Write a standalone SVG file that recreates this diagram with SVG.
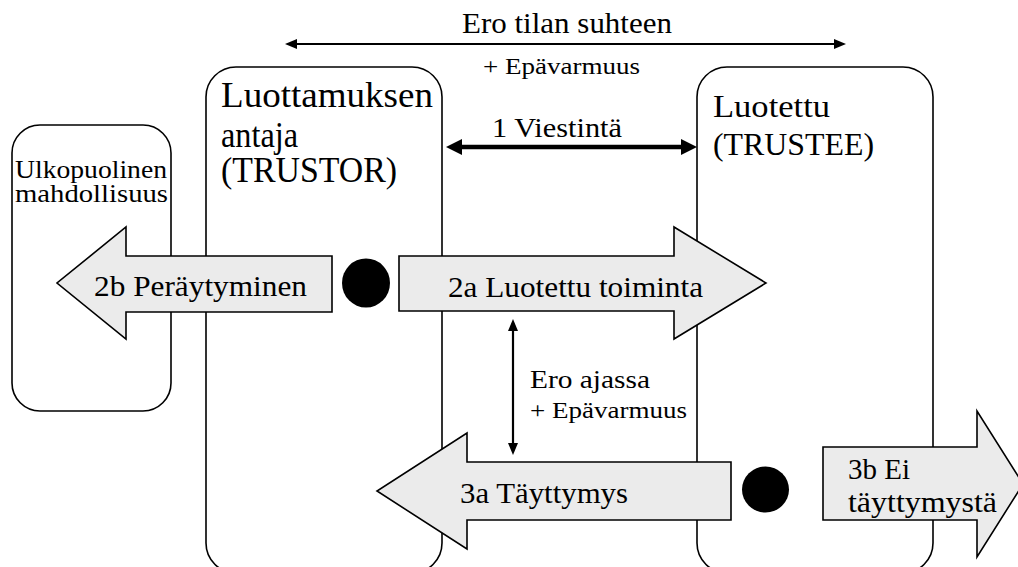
<svg xmlns="http://www.w3.org/2000/svg" width="1018" height="567" viewBox="0 0 1018 567" font-family="'Liberation Serif', 'Times New Roman', serif">
  <style>
    text { fill: #000; }
    .box { fill: #fff; stroke: #000; stroke-width: 1.6; }
    .block { fill: #ebebeb; stroke: #000; stroke-width: 1.6; stroke-linejoin: miter; }
    .dot { fill: #000; }
    .thin { stroke: #000; stroke-width: 2.2; fill: none; marker-start: url(#tip); marker-end: url(#tip); }
    .thick { stroke: #000; stroke-width: 4.5; fill: none; marker-start: url(#tipBig); marker-end: url(#tipBig); }
    .big { font-size: 35px; }
    .mid { font-size: 30px; }
    .small { font-size: 23px; }
  </style>
  <defs>
    <marker id="tip" viewBox="0 0 12 10" refX="8" refY="5" markerWidth="12" markerHeight="10" markerUnits="userSpaceOnUse" orient="auto-start-reverse">
      <path d="M0,0 L12,5 L0,10 z" fill="#000"/>
    </marker>
    <marker id="tipBig" viewBox="0 0 16 16" refX="10" refY="8" markerWidth="16" markerHeight="16" markerUnits="userSpaceOnUse" orient="auto-start-reverse">
      <path d="M0,0 L16,8 L0,16 z" fill="#000"/>
    </marker>
  </defs>

  <!-- parties -->
  <g id="outside-option">
    <rect class="box" x="12" y="125" width="159" height="286" rx="28" ry="28"/>
    <text x="15" y="178" font-size="25" textLength="152" lengthAdjust="spacingAndGlyphs">Ulkopuolinen</text>
    <text x="15" y="202" font-size="25" textLength="153" lengthAdjust="spacingAndGlyphs">mahdollisuus</text>
  </g>

  <g id="trustor">
    <rect class="box" x="206" y="67" width="236" height="506" rx="30" ry="30"/>
    <text class="big" x="221" y="107" textLength="212" lengthAdjust="spacingAndGlyphs">Luottamuksen</text>
    <text class="big" x="221" y="147" textLength="77" lengthAdjust="spacingAndGlyphs">antaja</text>
    <text class="big" x="221" y="182" textLength="176" lengthAdjust="spacingAndGlyphs">(TRUSTOR)</text>
  </g>

  <g id="trustee">
    <rect class="box" x="697" y="67" width="236" height="506" rx="30" ry="30"/>
    <text x="713" y="117" font-size="32" textLength="117" lengthAdjust="spacingAndGlyphs">Luotettu</text>
    <text x="713" y="155" font-size="32" textLength="161" lengthAdjust="spacingAndGlyphs">(TRUSTEE)</text>
  </g>

  <!-- connectors between the parties -->
  <g id="connectors">
    <line class="thin" x1="289" y1="44" x2="842" y2="44"/>
    <line class="thick" x1="452" y1="147" x2="691" y2="147"/>
    <line class="thin" x1="513" y1="323" x2="513" y2="451"/>
  </g>

  <g id="labels">
    <text x="462" y="33" font-size="29" textLength="210" lengthAdjust="spacingAndGlyphs">Ero tilan suhteen</text>
    <text class="small" x="483" y="74" textLength="157" lengthAdjust="spacingAndGlyphs">+ Epävarmuus</text>
    <text x="492" y="137" font-size="28" textLength="130" lengthAdjust="spacingAndGlyphs">1 Viestintä</text>
    <text x="530" y="388" font-size="26" textLength="120" lengthAdjust="spacingAndGlyphs">Ero ajassa</text>
    <text class="small" x="530" y="418" textLength="157" lengthAdjust="spacingAndGlyphs">+ Epävarmuus</text>
  </g>

  <!-- decision points -->
  <ellipse id="decision-trustor" class="dot" cx="366" cy="283" rx="24" ry="24.5"/>
  <ellipse id="decision-trustee" class="dot" cx="765.5" cy="489.5" rx="23.5" ry="23"/>

  <!-- actions -->
  <g id="withdrawal">
    <polygon class="block" points="332,256 126,256 126,227 57,283 126,339 126,312 332,312"/>
    <text class="mid" x="94" y="296" textLength="213" lengthAdjust="spacingAndGlyphs">2b Peräytyminen</text>
  </g>

  <g id="trusted-action">
    <polygon class="block" points="399,256 674,256 674,227 766,283 674,339 674,311 399,311"/>
    <text class="mid" x="448" y="297" textLength="255" lengthAdjust="spacingAndGlyphs">2a Luotettu toiminta</text>
  </g>

  <g id="fulfilment">
    <polygon class="block" points="731,462 467,462 467,433 377,491 467,549 467,520 731,520"/>
    <text class="mid" x="460" y="503" textLength="168" lengthAdjust="spacingAndGlyphs">3a Täyttymys</text>
  </g>

  <g id="no-fulfilment">
    <polygon class="block" points="823,447 977,447 977,411 1023,484 977,557 977,520 823,520"/>
    <text class="mid" x="848" y="479" textLength="62" lengthAdjust="spacingAndGlyphs">3b Ei</text>
    <text class="mid" x="848" y="512" textLength="149" lengthAdjust="spacingAndGlyphs">täyttymystä</text>
  </g>
</svg>
